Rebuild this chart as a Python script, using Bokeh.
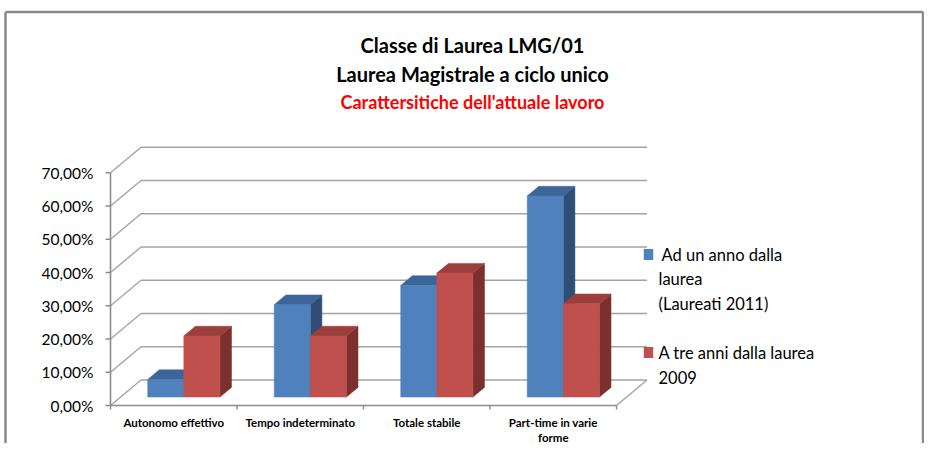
from bokeh.plotting import figure
from bokeh.models import Range1d
from bokeh.core.properties import value
from bokeh.embed import file_html
from bokeh.resources import INLINE

# ---------------- data ----------------
categories = ["Autonomo effettivo", "Tempo indeterminato", "Totale stabile", "Part-time in varie\nforme"]
series_names = ["Ad un anno dalla\nlaurea\n(Laureati 2011)", "A tre anni dalla laurea\n2009"]
ad_un_anno = [5.3, 27.8, 33.6, 60.5]      # %
a_tre_anni = [18.4, 18.4, 37.3, 28.1]     # %
y_ticks = [0, 10, 20, 30, 40, 50, 60, 70]
y_tick_labels = ["0,00%", "10,00%", "20,00%", "30,00%", "40,00%", "50,00%", "60,00%", "70,00%"]
title_lines = ["Classe di Laurea LMG/01", "Laurea Magistrale a ciclo unico"]
subtitle = "Carattersitiche dell'attuale lavoro"

# ---------------- layout (pixels in the picture) ----------------
W, H = 924, 443
ORG = 0.0            # picture pixel where the figure starts
PX_X0 = 110.0        # front value axis
PX_CAT = 126.5       # px per category
PX_Y0 = 405.0        # front floor
PX_PER = 3.3243      # px per 1 %

def X(px):
    return (px - PX_X0) / PX_CAT

def Y(py):
    return (PX_Y0 - py) / PX_PER

DX = 30.5 / PX_CAT   # depth offset (back wall)
DY = 25.5 / PX_PER
D0, D1 = 0.33, 0.71  # bar depth (fraction)
BW = 36.1 / PX_CAT   # bar width

FONT = value("Lato")

p = figure(width=W, height=H, output_backend="svg", toolbar_location=None,
           x_range=Range1d(X(ORG), X(ORG + W)), y_range=Range1d(Y(ORG + H), Y(ORG)),
           min_border=0, background_fill_color="white", border_fill_color="white",
           outline_line_color=None)
p.xaxis.visible = False
p.yaxis.visible = False
p.grid.visible = False

# ---------------- chart border ----------------
bx0, bx1, by0, by1 = X(ORG + 5), X(ORG + W - 1.5), Y(ORG + 11.5), Y(ORG + H)
p.multi_line(xs=[[bx0, bx0], [bx0, bx1], [bx1, bx1]], ys=[[by1, by0], [by0, by0], [by0, by1]],
             line_color="#8a8a8a", line_width=2.5)

# ---------------- walls / grid ----------------
n = len(categories)
grid_col = "#a3a3a3"
p.segment(x0=[DX] * len(y_ticks), y0=[v + DY for v in y_ticks],
          x1=[n + DX] * len(y_ticks), y1=[v + DY for v in y_ticks],
          line_color=grid_col, line_width=1.6)
p.segment(x0=[0] * len(y_ticks), y0=y_ticks, x1=[DX] * len(y_ticks), y1=[v + DY for v in y_ticks],
          line_color=grid_col, line_width=1.4)
p.segment(x0=[n], y0=[0], x1=[n + DX], y1=[DY], line_color=grid_col, line_width=1.4)
p.segment(x0=[0], y0=[0], x1=[n], y1=[0], line_color="#8c8c8c", line_width=1.6)
p.segment(x0=[0], y0=[0], x1=[0], y1=[max(y_ticks)], line_color="#8c8c8c", line_width=1.6)
tk = 5.0 / PX_CAT
p.segment(x0=[-tk] * len(y_ticks), y0=y_ticks, x1=[0] * len(y_ticks), y1=y_ticks,
          line_color="#8c8c8c", line_width=1.4)
tkv = 4.0 / PX_PER
p.segment(x0=list(range(n + 1)), y0=[0] * (n + 1), x1=list(range(n + 1)), y1=[-tkv] * (n + 1),
          line_color="#8c8c8c", line_width=1.4)

# ---------------- 3D bars ----------------
colors = [("#4F81BD", "#3D6597", "#2F4E76"), ("#C0504D", "#9C3E3B", "#7B302E")]
dd = D1 - D0
for s, vals in enumerate([ad_un_anno, a_tre_anni]):
    front, top_c, side_c = colors[s]
    lefts = [i + 0.5 + D0 * DX + (s - 1) * BW for i in range(n)]
    rights = [l + BW for l in lefts]
    bottoms = [D0 * DY] * n
    tops = [v + D0 * DY for v in vals]
    side_xs = [[r, r, r + dd * DX, r + dd * DX] for r in rights]
    side_ys = [[b, t, t + dd * DY, b + dd * DY] for b, t in zip(bottoms, tops)]
    p.patches(xs=side_xs, ys=side_ys, fill_color=side_c, line_color=side_c, line_width=0.5)
    top_xs = [[l, r, r + dd * DX, l + dd * DX] for l, r in zip(lefts, rights)]
    top_ys = [[t, t, t + dd * DY, t + dd * DY] for t in tops]
    p.patches(xs=top_xs, ys=top_ys, fill_color=top_c, line_color=top_c, line_width=0.5)
    p.quad(left=lefts, right=rights, bottom=bottoms, top=tops,
           fill_color=front, line_color=front, line_width=0.5)

# ---------------- texts ----------------
p.text(x=[X(93)] * len(y_ticks), y=y_ticks, text=y_tick_labels, text_font=FONT,
       text_font_size=value("15.5px"), text_align="right", text_baseline="middle", text_color="black")

cx, cy, ct = [], [], []
for i, c in enumerate(categories):
    for j, line in enumerate(c.split("\n")):
        cx.append(i + 0.5)
        cy.append(Y(422 + 14.5 * j))
        ct.append(line)
p.text(x=cx, y=cy, text=ct, text_font=FONT, text_font_size=value("11.5px"), text_font_style="bold",
       text_align="center", text_baseline="middle", text_color="black")

p.text(x=[X(472)] * 2, y=[Y(44), Y(73)], text=title_lines, text_font=FONT,
       text_font_size=value("20px"), text_font_style="bold", text_align="center",
       text_baseline="middle", text_color="black")
p.text(x=[X(472)], y=[Y(101)], text=[subtitle], text_font=FONT,
       text_font_size=value("18px"), text_font_style="bold", text_align="center",
       text_baseline="middle", text_color="#FF0000")

# ---------------- legend ----------------
leg_rows = [254, 352]
lx, ly, lt = [], [], []
for k, name in enumerate(series_names):
    for j, line in enumerate(name.split("\n")):
        lx.append(X(661 if (j == 0 and k == 0) else 658))
        ly.append(Y(leg_rows[k] + 24.5 * j))
        lt.append(line)
p.text(x=lx, y=ly, text=lt, text_font=FONT, text_font_size=value("16.5px"),
       text_align="left", text_baseline="middle", text_color="black")
p.rect(x=[X(648)] * 2, y=[Y(r) for r in leg_rows], width=9.5, height=11,
       width_units="screen", height_units="screen",
       fill_color=[colors[0][0], colors[1][0]], line_color=None)

open("out.html", "w").write(file_html(p, INLINE))
